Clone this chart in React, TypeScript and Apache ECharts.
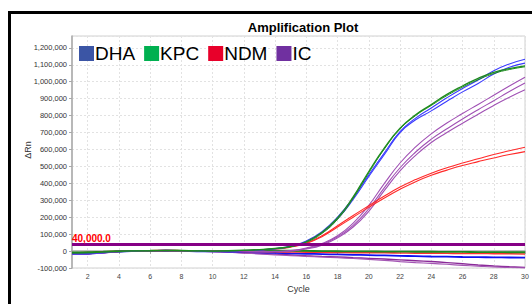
import React, { useEffect, useRef } from 'react';
import * as echarts from 'echarts';

const cycles = [1, 2, 3, 4, 5, 6, 7, 8, 9, 10, 11, 12, 13, 14, 15, 16, 17, 18, 19, 20, 21, 22, 23, 24, 25, 26, 27, 28, 29, 30];
const xTickLabels = [2, 4, 6, 8, 10, 12, 14, 16, 18, 20, 22, 24, 26, 28, 30];
const threshold = 40000;
const thresholdLabel = '40,000.0';
const legendNames = ['DHA', 'KPC', 'NDM', 'IC'];
const legendColors = ['#3B55A5', '#00B050', '#E8002A', '#7030A0'];

const dhaAmp1 = [-16000, -14000, -8000, -2000, 1000, 2000, 4000, 3000, 1000, -1000, 0, 3000, 7000, 15000, 30000, 60000, 115000, 200000, 315000, 450000, 580000, 705000, 785000, 845000, 905000, 960000, 1010000, 1065000, 1105000, 1133000];
const dhaAmp2 = [-17000, -15000, -9000, -2000, 1000, 2000, 3000, 2000, 0, -1000, -1000, 2000, 6000, 13000, 27000, 55000, 108000, 190000, 305000, 440000, 570000, 700000, 775000, 828000, 885000, 940000, 990000, 1045000, 1085000, 1110000];
const dhaFlat = [-18000, -16000, -9000, -3000, 0, 1000, 2000, 1000, -1000, -2000, -3000, -5000, -8000, -11000, -14000, -16000, -18000, -20000, -22000, -24000, -26000, -28000, -30000, -32000, -33000, -35000, -36000, -37000, -38000, -39000];

const kpcAmp1 = [-10000, -9000, -5000, -1000, 1000, 2000, 4000, 3000, 1000, 0, 2000, 5000, 9000, 16000, 28000, 55000, 110000, 195000, 320000, 470000, 610000, 726000, 805000, 865000, 925000, 975000, 1020000, 1055000, 1078000, 1094000];
const kpcAmp2 = [-11000, -10000, -6000, -1000, 1000, 2000, 3000, 2000, 1000, 0, 1000, 4000, 8000, 14000, 26000, 52000, 104000, 188000, 312000, 462000, 603000, 720000, 800000, 860000, 918000, 968000, 1012000, 1048000, 1072000, 1088000];
const kpcFlat = [-8000, -7000, -4000, -1000, 1000, 2000, 3000, 2000, 1000, 0, 0, 1000, 2000, 3000, 2000, 1000, 0, -1000, -2000, -2000, -3000, -3000, -4000, -4000, -5000, -5000, -6000, -6000, -7000, -7000];

const ndmAmp1 = [-12000, -11000, -6000, -1000, 1000, 2000, 4000, 3000, 1000, 0, 1000, 3000, 7000, 14000, 25000, 48000, 90000, 150000, 210000, 268000, 325000, 378000, 422000, 460000, 492000, 520000, 545000, 570000, 592000, 613000];
const ndmAmp2 = [-13000, -12000, -7000, -2000, 1000, 2000, 3000, 2000, 0, -1000, 0, 2000, 6000, 12000, 23000, 45000, 85000, 142000, 200000, 258000, 313000, 365000, 410000, 448000, 478000, 505000, 528000, 550000, 570000, 587000];
const ndmFlat = [-10000, -9000, -5000, -1000, 1000, 2000, 3000, 2000, 0, -1000, -1000, -2000, -3000, -4000, -5000, -6000, -7000, -8000, -9000, -10000, -10000, -11000, -12000, -12000, -13000, -14000, -14000, -15000, -16000, -17000];

const icAmp1 = [-17000, -15000, -9000, -3000, 0, 2000, 3000, 2000, 0, -2000, -1000, -2000, -3000, -2000, 3000, 18000, 45000, 90000, 165000, 270000, 400000, 520000, 615000, 692000, 756000, 812000, 866000, 920000, 975000, 1027000];
const icAmp2 = [-18000, -16000, -9000, -3000, 0, 1000, 3000, 2000, 0, -2000, -2000, -3000, -4000, -3000, 1000, 15000, 40000, 84000, 152000, 250000, 375000, 492000, 585000, 661000, 722000, 780000, 835000, 888000, 942000, 992000];
const icAmp3 = [-18000, -16000, -10000, -3000, 0, 1000, 2000, 1000, -1000, -2000, -2000, -4000, -5000, -4000, 0, 12000, 35000, 78000, 142000, 235000, 358000, 474000, 565000, 641000, 700000, 755000, 808000, 860000, 908000, 952000];
const icFlat1 = [-18000, -16000, -10000, -3000, 0, 1000, 2000, 1000, -1000, -3000, -6000, -10000, -14000, -18000, -23000, -28000, -32000, -35000, -39000, -43000, -47000, -52000, -57000, -62000, -68000, -75000, -82000, -88000, -93000, -97000];
const icFlat2 = [-19000, -17000, -10000, -4000, 0, 1000, 2000, 1000, -1000, -3000, -7000, -12000, -17000, -22000, -27000, -31000, -35000, -39000, -44000, -49000, -55000, -62000, -68000, -73000, -78000, -84000, -89000, -94000, -97000, -99000];

const FONT = '"Liberation Sans", Arial, sans-serif';

function mk(name: string, values: number[], color: string, width: number, z = 2) {
  return {
    name,
    type: 'line',
    data: cycles.map((c, i) => [c, values[i]]),
    showSymbol: false,
    symbol: 'none',
    smooth: true,
    z,
    lineStyle: { color, width },
    itemStyle: { color },
    emphasis: { disabled: true },
  };
}

export default function App() {
  const ref = useRef<HTMLDivElement>(null);
  useEffect(() => {
    const chart = echarts.init(ref.current!, null, { renderer: 'svg' });
    const series: any[] = [
      mk('IC', icFlat1, '#8A2A98', 1.4),
      mk('IC', icFlat2, '#A456B4', 1.2),
      mk('DHA', dhaFlat, '#1010F0', 1.8),
      mk('NDM', ndmFlat, '#FF3030', 1.6),
      mk('KPC', kpcFlat, '#1E8B1E', 1.8),
      mk('IC', icAmp1, '#A050B4', 1.1),
      mk('IC', icAmp2, '#A050B4', 1.1),
      mk('IC', icAmp3, '#A050B4', 1.1),
      mk('NDM', ndmAmp1, '#FF2A2A', 1.1),
      mk('NDM', ndmAmp2, '#FF2A2A', 1.1),
      mk('DHA', dhaAmp1, '#3A3AFF', 1.1),
      mk('DHA', dhaAmp2, '#3A3AFF', 1.1),
      mk('KPC', kpcAmp1, '#1E8B1E', 1.3),
      mk('KPC', kpcAmp2, '#1E8B1E', 1.0),
    ];
    series[0].markLine = {
      silent: true,
      symbol: 'none',
      animation: false,
      z: 10,
      lineStyle: { color: '#850085', width: 3, type: 'solid' },
      label: {
        formatter: thresholdLabel,
        position: 'insideStartTop',
        distance: [0, 1],
        color: '#FF0000',
        fontWeight: 'bold',
        fontSize: 10,
        fontFamily: FONT,
      },
      data: [{ yAxis: threshold }],
    };
    chart.setOption({
      animation: false,
      backgroundColor: '#fff',
      title: {
        text: 'Amplification Plot',
        left: 298,
        textAlign: 'center',
        top: 16,
        textStyle: { fontSize: 13, fontWeight: 'bold', color: '#000', fontFamily: FONT },
      },
      legend: {
        left: 79,
        top: 44,
        padding: 0,
        itemWidth: 15,
        itemHeight: 15,
        itemGap: 9,
        selectedMode: false,
        icon: 'rect',
        textStyle: { fontSize: 19, color: '#000', fontFamily: FONT, padding: [0, 0, 0, -4] },
        data: legendNames.map((n, i) => ({ name: n, icon: 'rect', itemStyle: { color: legendColors[i] } })),
      },
      graphic: [
        {
          type: 'rect',
          silent: true,
          shape: { x: 9.5, y: 12.5, width: 600, height: 400 },
          style: { fill: 'none', stroke: '#000', lineWidth: 3 },
          z: 100,
        },
        {
          type: 'text',
          silent: true,
          x: 28,
          y: 150,
          rotation: Math.PI / 2,
          style: { text: 'ΔRn', fontSize: 9, fill: '#333', fontFamily: FONT, align: 'center', verticalAlign: 'middle' },
          z: 100,
        },
      ],
      grid: { left: 72, right: 7, top: 36, bottom: 36, show: true, borderColor: '#d0d0d0', borderWidth: 1 },
      xAxis: {
        type: 'value',
        min: 1,
        max: 30,
        name: 'Cycle',
        nameLocation: 'middle',
        nameGap: 13,
        nameTextStyle: { fontSize: 9, color: '#333', fontFamily: FONT },
        axisLine: { lineStyle: { color: '#a8a8a8', width: 1.5 } },
        axisTick: { show: true, length: 3, lineStyle: { color: '#a8a8a8' }, customValues: xTickLabels },
        axisLabel: { fontSize: 7, color: '#444', fontFamily: FONT, margin: 5, customValues: xTickLabels },
        splitLine: { show: true, lineStyle: { color: '#e2e2e2', type: [2, 2] } },
      },
      yAxis: {
        type: 'value',
        min: -100000,
        max: 1270000,
        interval: 100000,
        axisLine: { show: true, lineStyle: { color: '#a8a8a8', width: 1.5 } },
        axisTick: { show: true, length: 3, lineStyle: { color: '#a8a8a8' } },
        axisLabel: {
          fontSize: 7.5,
          color: '#333',
          fontFamily: FONT,
          margin: 5,
          showMaxLabel: false,
          formatter: (v: number) => v.toLocaleString('en-US'),
        },
        splitLine: { show: true, lineStyle: { color: '#e2e2e2', type: [2, 2] } },
      },
      series,
    });
    return () => chart.dispose();
  }, []);
  return <div ref={ref} style={{ position: 'absolute', left: 0, top: 0, width: 532, height: 304, background: '#fff' }} />;
}
